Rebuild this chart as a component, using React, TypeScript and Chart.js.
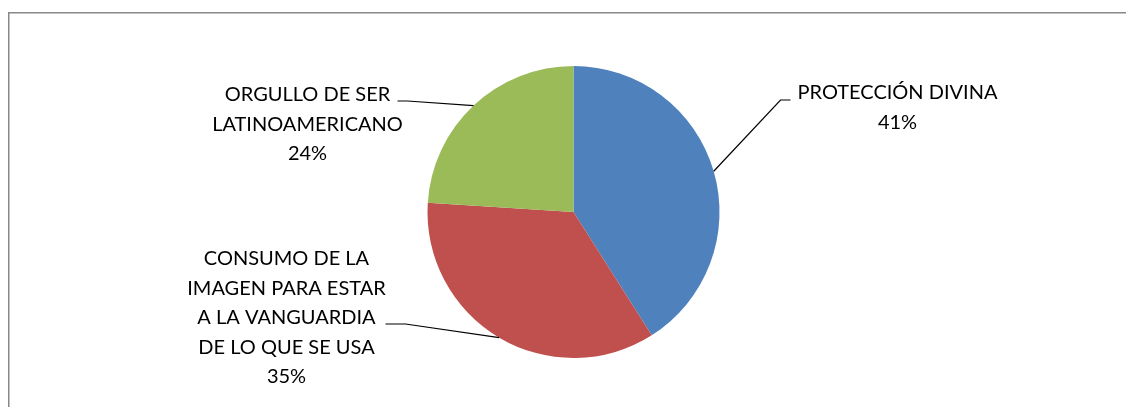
import React, { useEffect, useRef } from "react";
import { Chart, registerables } from "chart.js";

Chart.register(...registerables);

const categories = [
  "PROTECCIÓN DIVINA",
  "CONSUMO DE LA IMAGEN PARA ESTAR A LA VANGUARDIA DE LO QUE SE USA",
  "ORGULLO DE SER LATINOAMERICANO",
];
const values = [41, 35, 24];
const labelLines = [
  ["PROTECCIÓN DIVINA"],
  ["CONSUMO DE LA", "IMAGEN PARA ESTAR", "A LA VANGUARDIA", "DE LO QUE SE USA"],
  ["ORGULLO DE SER", "LATINOAMERICANO"],
];
const colors = ["#4F81BD", "#C0504D", "#9BBB59"];

// label layout (offsets relative to pie center)
const labelPos = [
  { dx: 324, dy: 92 - 212 },
  { dx: -287, dy: 258 - 212 },
  { dx: -266, dy: 94 - 212 },
];
const leaderPts = [
  [
    [207, -112],
    [217, -112],
  ],
  [
    [-168, 112],
    [-188, 112],
  ],
  [
    [-166, -111],
    [-176, -111],
  ],
];

const FONT = "20px Lato";
const LINE_H = 29.5;

const labelPlugin = {
  id: "pieLabels",
  afterDraw(chart: any) {
    const ctx = chart.ctx;
    const meta = chart.getDatasetMeta(0);
    const total = values.reduce((a, b) => a + b, 0);
    ctx.save();
    // border
    ctx.strokeStyle = "#888888";
    ctx.lineWidth = 1.5;
    ctx.beginPath();
    ctx.moveTo(8.75, 407);
    ctx.lineTo(8.75, 12.75);
    ctx.lineTo(1126, 12.75);
    ctx.stroke();

    meta.data.forEach((arc: any, i: number) => {
      const cx = arc.x;
      const cy = arc.y;
      const r = arc.outerRadius;
      const mid = (arc.startAngle + arc.endAngle) / 2;
      const px = cx + Math.cos(mid) * r;
      const py = cy + Math.sin(mid) * r;
      ctx.strokeStyle = "#000000";
      ctx.lineWidth = 1.2;
      ctx.beginPath();
      ctx.moveTo(px, py);
      leaderPts[i].forEach((p) => ctx.lineTo(cx + p[0], cy + p[1]));
      ctx.stroke();

      const pct = Math.round((values[i] / total) * 100) + "%";
      const lines = [...labelLines[i], pct];
      ctx.font = FONT;
      ctx.fillStyle = "#000000";
      ctx.textAlign = "center";
      ctx.textBaseline = "alphabetic";
      lines.forEach((t, k) => {
        ctx.fillText(t, cx + labelPos[i].dx, cy + labelPos[i].dy + 7.3 + k * LINE_H);
      });
    });
    ctx.restore();
  },
};

export default function App() {
  const ref = useRef<HTMLCanvasElement>(null);
  useEffect(() => {
    if (!ref.current) return;
    const chart = new Chart(ref.current, {
      type: "pie",
      data: {
        labels: categories,
        datasets: [
          {
            data: values,
            backgroundColor: colors,
            borderWidth: 0,
          },
        ],
      },
      options: {
        animation: false,
        responsive: false,
        maintainAspectRatio: false,
        layout: { padding: { left: 427, right: 406, top: 66, bottom: 49 } },
        plugins: {
          legend: { display: false },
          tooltip: { enabled: false },
        },
      },
      plugins: [labelPlugin],
    });
    return () => chart.destroy();
  }, []);
  return (
    <div style={{ position: "fixed", left: 0, top: 0, width: 1126, height: 407, background: "#fff" }}>
      <canvas ref={ref} width={1126} height={407} style={{ display: "block" }} />
    </div>
  );
}
